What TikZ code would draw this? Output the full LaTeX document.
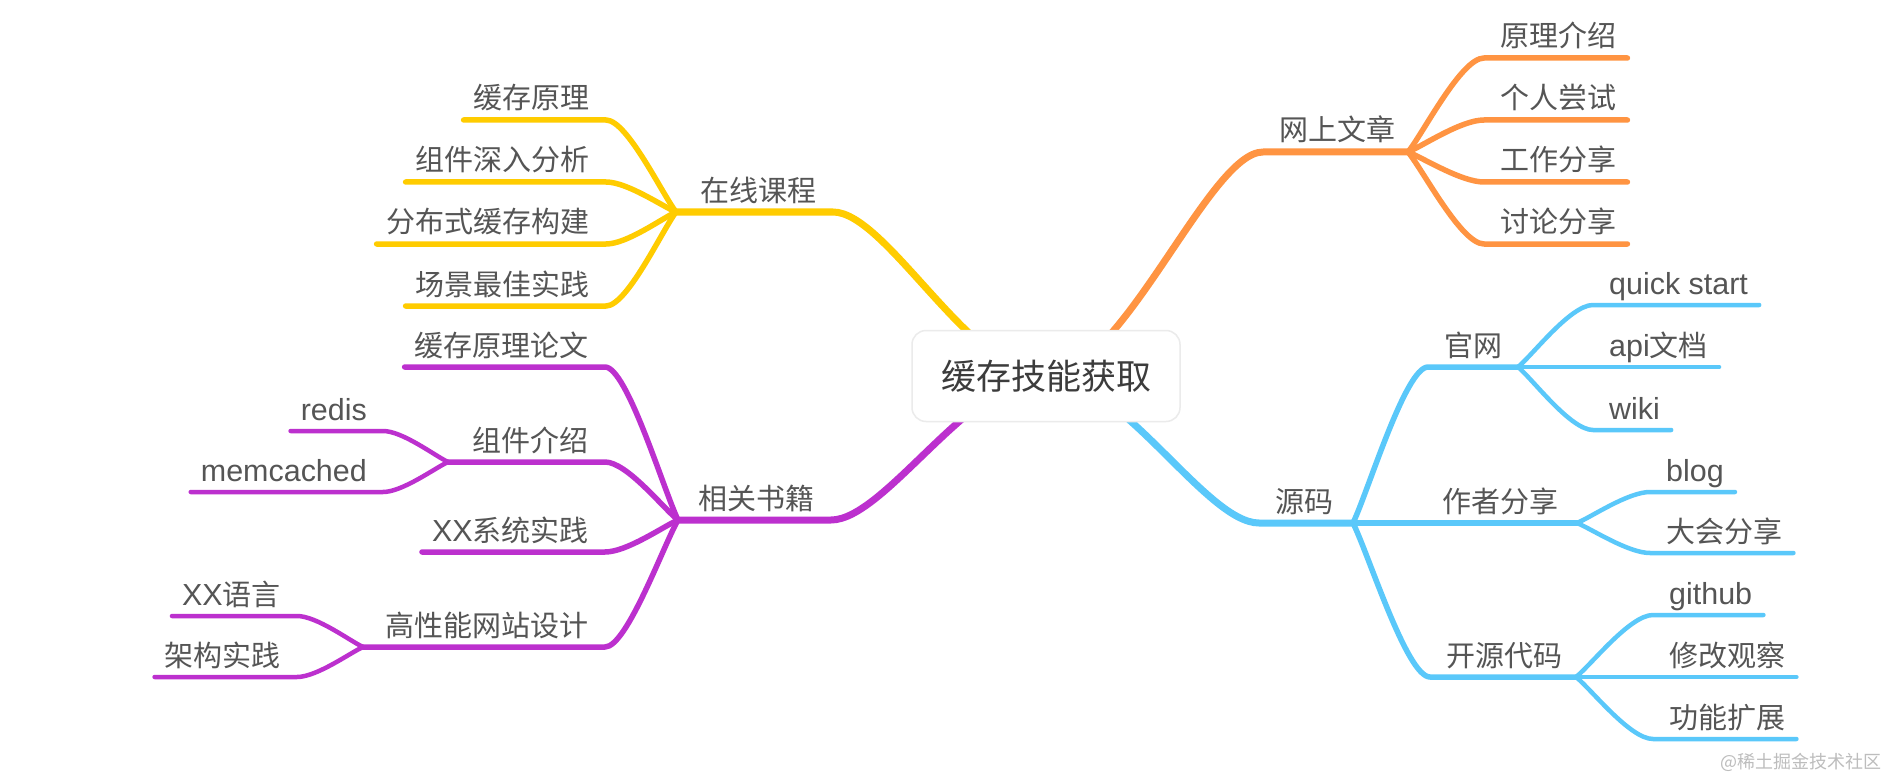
\documentclass[tikz,border=0pt]{standalone}
\usepackage{fontspec}
\setmainfont{Noto Sans CJK SC}
\newfontfamily\latinfont[Scale=1.05]{Liberation Sans}
\newcommand\lat[1]{{\latinfont #1}}
\usetikzlibrary{calc}
\definecolor{cY}{HTML}{FFCC00}
\definecolor{cO}{HTML}{FF9442}
\definecolor{cB}{HTML}{5AC8FA}
\definecolor{cP}{HTML}{BC30CE}
\definecolor{txt}{HTML}{555555}
\definecolor{roottxt}{HTML}{3C3C3C}
\definecolor{rootline}{HTML}{EBEBEB}
\definecolor{wm}{HTML}{BDBDBD}
\pgfdeclarelayer{bg}
\pgfdeclarelayer{lines}
\pgfsetlayers{bg,lines,main}
\tikzset{
  lbl/.style={inner sep=0pt, text=txt, font=\fontsize{29}{32}\selectfont},
  lvA/.style={line width=7pt, line cap=round, line join=round},
  lvB/.style={line width=5.5pt, line cap=round, line join=round},
  lvC/.style={line width=4.5pt, line cap=round, line join=round},
}
\newcommand\mainbranch[4]{\begin{pgfonlayer}{lines}\draw[#1] (#2) .. controls ($(#2)!0.35!(#3|-#2)$) and ($(#3)!0.25!(#2|-#3)$) .. (#3) -- (#4);\end{pgfonlayer}}
\newcommand\subbranch[4]{\begin{pgfonlayer}{lines}\draw[#1] (#2) .. controls ($(#2)!0.2!(#3)$) and ($(#3)!0.3!(#2|-#3)$) .. (#3) -- (#4);\end{pgfonlayer}}
% leaf: name, style, parent junction, inner x, y, text
\newcommand\leafL[6]{%
  \node[lbl, anchor=base east] (#1) at ($(#4,#5)+(-16,-11)$) {#6};
  \coordinate (#1i) at (#4,#5);
  \subbranch{#2}{#3}{#1i}{$(#1.base west)+(-10,11)$}}
\newcommand\leafR[6]{%
  \node[lbl, anchor=base west] (#1) at ($(#4,#5)+(16,-11)$) {#6};
  \coordinate (#1i) at (#4,#5);
  \subbranch{#2}{#3}{#1i}{$(#1.base east)+(11,11)$}}
% mid: name, style, parent junction, inner x, y, own junction x, text
\newcommand\midL[7]{%
  \node[lbl, anchor=base east] (#1) at ($(#4,#5)+(-16,-11)$) {#7};
  \coordinate (#1i) at (#4,#5);
  \coordinate (#1j) at (#6,#5);
  \subbranch{#2}{#3}{#1i}{#1j}}
\newcommand\midR[7]{%
  \node[lbl, anchor=base west] (#1) at ($(#4,#5)+(16,-11)$) {#7};
  \coordinate (#1i) at (#4,#5);
  \coordinate (#1j) at (#6,#5);
  \subbranch{#2}{#3}{#1i}{#1j}}
% top: name, style, inner x, y, own junction x, text
\newcommand\topL[6]{%
  \node[lbl, anchor=base east] (#1) at ($(#3,#4)+(-16,-11)$) {#6};
  \coordinate (#1i) at (#3,#4);
  \coordinate (#1j) at (#5,#4);
  \mainbranch{#2}{root.center}{#1i}{#1j}}
\newcommand\topR[6]{%
  \node[lbl, anchor=base west] (#1) at ($(#3,#4)+(16,-11)$) {#6};
  \coordinate (#1i) at (#3,#4);
  \coordinate (#1j) at (#5,#4);
  \mainbranch{#2}{root.center}{#1i}{#1j}}

\begin{document}
\begin{tikzpicture}[x=1pt,y=-1pt]
\begin{pgfonlayer}{bg}
\fill[white] (0,0) rectangle (1889,778);
\end{pgfonlayer}
\useasboundingbox (0,0) rectangle (1889,778);

\node[draw=rootline, line width=1.5pt, fill=white, rounded corners=14pt,
      minimum width=268pt, minimum height=91pt, inner sep=0pt,
      text=roottxt, font=\fontsize{35}{40}\selectfont] (root) at (1046,376) {缓存技能获取};

% ---- yellow: 在线课程
\topL{zxkc}{cY,lvA}{833}{212}{676}{在线课程}
\leafL{ycyl}{cY,lvB}{zxkcj}{606}{120}{缓存原理}
\leafL{zjsr}{cY,lvB}{zxkcj}{606}{182}{组件深入分析}
\leafL{fbsh}{cY,lvB}{zxkcj}{606}{244}{分布式缓存构建}
\leafL{cjzj}{cY,lvB}{zxkcj}{606}{306}{场景最佳实践}

% ---- orange: 网上文章
\topR{wswz}{cO,lvA}{1263}{152}{1408}{网上文章}
\leafR{ylj}{cO,lvB}{wswzj}{1484}{58}{原理介绍}
\leafR{grcs}{cO,lvB}{wswzj}{1484}{120}{个人尝试}
\leafR{gzfx}{cO,lvB}{wswzj}{1484}{182}{工作分享}
\leafR{tlfx}{cO,lvB}{wswzj}{1484}{244}{讨论分享}

% ---- purple: 相关书籍
\topL{xgsj}{cP,lvA}{831}{520}{678}{相关书籍}
\leafL{hcyllw}{cP,lvB}{xgsjj}{605}{367}{缓存原理论文}
\midL{zjjs}{cP,lvB}{xgsjj}{605}{462}{448}{组件介绍}
\leafL{redis}{cP,lvC}{zjjsj}{383}{431}{\lat{redis}}
\leafL{memc}{cP,lvC}{zjjsj}{383}{492}{\lat{memcached}}
\leafL{xxxt}{cP,lvB}{xgsjj}{605}{552}{\lat{XX}系统实践}
\midL{gxn}{cP,lvB}{xgsjj}{605}{647}{363}{高性能网站设计}
\leafL{xxyy}{cP,lvC}{gxnj}{297}{616}{\lat{XX}语言}
\leafL{jgsj}{cP,lvC}{gxnj}{297}{677}{架构实践}

% ---- blue: 源码
\topR{ym}{cB,lvA}{1259}{523}{1353}{源码}
\midR{gw}{cB,lvB}{ymj}{1428}{367}{1518}{官网}
\leafR{qs}{cB,lvC}{gwj}{1593}{305}{\lat{quick start}}
\leafR{api}{cB,lvC}{gwj}{1593}{367}{\lat{api}文档}
\leafR{wiki}{cB,lvC}{gwj}{1593}{430}{\lat{wiki}}
\midR{zzfx}{cB,lvB}{ymj}{1426}{523}{1577}{作者分享}
\leafR{blog}{cB,lvC}{zzfxj}{1650}{492}{\lat{blog}}
\leafR{dhfx}{cB,lvC}{zzfxj}{1650}{553}{大会分享}
\midR{kydm}{cB,lvB}{ymj}{1430}{677}{1576}{开源代码}
\leafR{gh}{cB,lvC}{kydmj}{1653}{615}{\lat{github}}
\leafR{xggc}{cB,lvC}{kydmj}{1653}{677}{修改观察}
\leafR{gnkz}{cB,lvC}{kydmj}{1653}{739}{功能扩展}

\node[inner sep=0pt, anchor=east, text=wm, font=\fontsize{18}{20}\selectfont] (wmk) at (1882,762) {@稀土掘金技术社区};
\end{tikzpicture}
\end{document}
